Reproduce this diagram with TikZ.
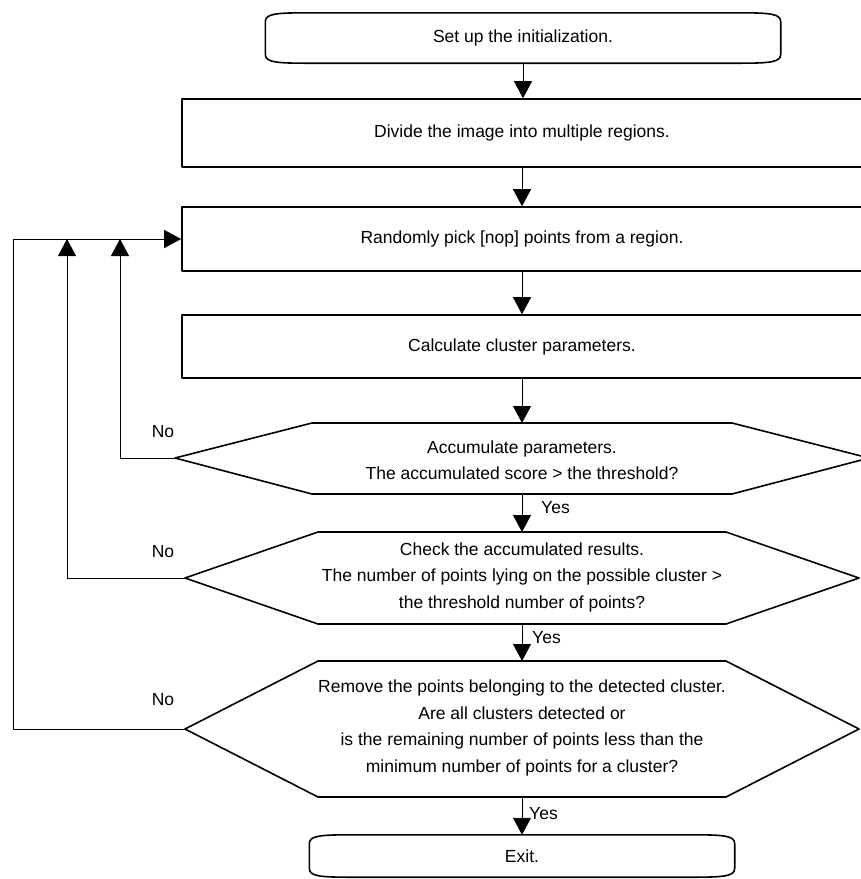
\documentclass[tikz,border=0pt]{standalone}
\usepackage{fontspec}
\setmainfont{Liberation Sans}
\usetikzlibrary{arrows.meta}

\newcommand{\flowfont}{\fontsize{17.5}{26.5}\selectfont}
% outline of a start/stop box round node #1
\newcommand{\termline}[1]{%
  \draw[boxline] ([xshift=42pt]#1.north west) -- ([xshift=-42pt]#1.north east)
    .. controls ([xshift=-10pt]#1.north east) and ([yshift=-1pt]#1.north east) .. ([yshift=-9pt]#1.north east)
    -- ([yshift=9pt]#1.south east)
    .. controls ([yshift=1pt]#1.south east) and ([xshift=-10pt]#1.south east) .. ([xshift=-42pt]#1.south east)
    -- ([xshift=42pt]#1.south west)
    .. controls ([xshift=10pt]#1.south west) and ([yshift=1pt]#1.south west) .. ([yshift=9pt]#1.south west)
    -- ([yshift=-9pt]#1.north west)
    .. controls ([yshift=-1pt]#1.north west) and ([xshift=10pt]#1.north west) .. ([xshift=42pt]#1.north west)
    -- cycle;}

\begin{document}
\begin{tikzpicture}[x=1pt, y=-1pt,
    every node/.style={font=\flowfont, align=center},
    boxline/.style={line width=1.6pt, line join=round},
    procbox/.style={draw, boxline, minimum width=680pt, inner sep=0pt},
    termbox/.style={inner sep=0pt},
    flow/.style={line width=0.9pt, -{Triangle[length=17pt, width=18pt]}},
    lbl/.style={inner sep=0pt}]
    \useasboundingbox (0,0) rectangle (861,879);
    \clip (0,0) rectangle (861,879);

    % start and stop
    \node[termbox, minimum width=515pt, minimum height=50pt] (start) at (523,38) {Set up the initialization.};
    \termline{start}
    \node[termbox, minimum width=425pt, minimum height=42pt] (exit) at (522,856) {Exit.};
    \termline{exit}

    % process boxes
    \node[procbox, minimum height=68pt] (divide) at (522,133) {Divide the image into multiple regions.};
    \node[procbox, minimum height=64pt] (pick) at (522,239) {Randomly pick [nop] points from a region.};
    \node[procbox, minimum height=63pt] (calc) at (522,346.5) {Calculate cluster parameters.};

    % decisions
    \draw[boxline] (175,458) -- (312,423) -- (732,423) -- (869,458) -- (732,494) -- (312,494) -- cycle;
    \node (accum) at (522,460) {Accumulate parameters.\\The accumulated score > the threshold?};
    \coordinate (accum-n) at (522,423);
    \coordinate (accum-s) at (522,494);
    \coordinate (accum-w) at (175,458);

    \draw[boxline] (185,578) -- (318,532) -- (726,532) -- (859,578) -- (726,624) -- (318,624) -- cycle;
    \node (check) at (522,577) {Check the accumulated results.\\The number of points lying on the possible cluster >\\the threshold number of points?};
    \coordinate (check-n) at (522,532);
    \coordinate (check-s) at (522,624);
    \coordinate (check-w) at (185,578);

    \draw[boxline] (185,729) -- (318,661) -- (726,661) -- (859,729) -- (726,797) -- (318,797) -- cycle;
    \node (remove) at (522,728) {Remove the points belonging to the detected cluster.\\Are all clusters detected or\\is the remaining number of points less than the\\minimum number of points for a cluster?};
    \coordinate (remove-n) at (522,661);
    \coordinate (remove-s) at (522,797);
    \coordinate (remove-w) at (185,729);

    % main flow
    \draw[flow] (start.south) -- (start.south |- divide.north);
    \draw[flow] (divide.south) -- (pick.north);
    \draw[flow] (pick.south) -- (calc.north);
    \draw[flow] (calc.south) -- (accum-n);
    \draw[flow] (accum-s) -- (check-n);
    \draw[flow] (check-s) -- (remove-n);
    \draw[flow] (remove-s) -- (exit.north);

    % loops back
    \coordinate (back-a) at (120,239);
    \coordinate (back-b) at (67,239);
    \coordinate (back-c) at (13,239);
    \draw[flow] (accum-w) -| (back-a);
    \draw[flow] (check-w) -| (back-b);
    \draw[flow] (remove-w) -| (back-c) -- (pick.west);

    \node[lbl] (no-a) at (163,432) {No};
    \node[lbl] (no-b) at (163,552) {No};
    \node[lbl] (no-c) at (163,700) {No};
    \node[lbl, anchor=west] (yes-a) at (541,508) {Yes};
    \node[lbl, anchor=west] (yes-b) at (532,638) {Yes};
    \node[lbl, anchor=west] (yes-c) at (529,814) {Yes};
\end{tikzpicture}
\end{document}
